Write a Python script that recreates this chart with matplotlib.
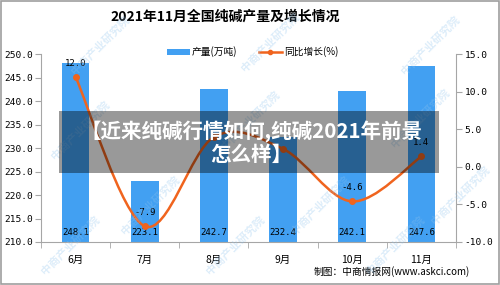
import matplotlib
matplotlib.use("Agg")
import matplotlib.pyplot as plt
from matplotlib.path import Path
from matplotlib.patches import PathPatch, Rectangle, Patch
from matplotlib.lines import Line2D
import numpy as np

plt.rcParams['font.family'] = ['Noto Sans CJK SC', 'DejaVu Sans']

months = ["6月", "7月", "8月", "9月", "10月", "11月"]
output = [248.1, 223.1, 242.7, 232.4, 242.1, 247.6]
yoy = [12.0, -7.9, 4.0, 2.4, -4.6, 1.4]
yoy_labels = ["12.0", "-7.9", "", "", "-4.6", "1.4"]

title = "2021年11月全国纯碱产量及增长情况"
banner = "【近来纯碱行情如何,纯碱2021年前景\n怎么样】"
source = "制图：中商情报网(www.askci.com)"

BLUE = "#42A0F2"
ORANGE = "#F0641E"
GRAY = "#A6A6A6"
MONO = ["DejaVu Sans Mono"]

fig = plt.figure(figsize=(5.0, 2.85), dpi=100)
ax = fig.add_axes([0.082, 0.151, 0.83, 0.658])
ax2 = ax.twinx()

x = np.arange(len(months))
ax.bar(x, output, width=0.4, color=BLUE, zorder=2)
ax.set_xlim(-0.5, len(months) - 0.5)
ax.set_ylim(210, 250)
ax.set_yticks(np.arange(210, 250.1, 5))
ax.set_yticklabels([f"{v:.1f}" for v in np.arange(210, 250.1, 5)], family=MONO, fontsize=6.8)
ax.set_xticks(x)
ax.set_xticklabels(months, fontsize=7.5)
ax.set_xticks(np.arange(-0.5, len(months)), minor=True)
ax.tick_params(axis='x', which='major', length=0, pad=9)
ax.tick_params(axis='x', which='minor', length=4, color=GRAY, direction='out')
ax.tick_params(axis='y', length=4, color=GRAY, pad=2)
ax.spines['top'].set_visible(False)
ax.spines['right'].set_visible(False)
ax.spines['left'].set_color(GRAY)
ax.spines['bottom'].set_color(GRAY)
ax2.spines['top'].set_visible(False)
ax2.spines['left'].set_visible(False)
ax2.spines['bottom'].set_visible(False)
ax2.spines['right'].set_color(GRAY)

for i, v in enumerate(output):
    ax.text(i, 212.1, f"{v:.1f}", ha='center', va='center', family=MONO, fontsize=6.5, color='black', zorder=3)

ax2.set_ylim(-10, 15)
ax2.set_yticks(np.arange(-10, 15.1, 5))
ax2.set_yticklabels([f"{v:.1f}" for v in np.arange(-10, 15.1, 5)], family=MONO, fontsize=6.8)
ax2.tick_params(axis='y', length=4, color=GRAY, pad=2)

# smoothed line (Catmull-Rom -> cubic Bezier)
pts = list(zip(x.astype(float), yoy))
verts = [pts[0]]
codes = [Path.MOVETO]
n = len(pts)
for i in range(n - 1):
    p0 = np.array(pts[max(i - 1, 0)])
    p1 = np.array(pts[i])
    p2 = np.array(pts[i + 1])
    p3 = np.array(pts[min(i + 2, n - 1)])
    c1 = p1 + (p2 - p0) / 6.0
    c2 = p2 - (p3 - p1) / 6.0
    verts += [tuple(c1), tuple(c2), tuple(p2)]
    codes += [Path.CURVE4] * 3
ax2.add_patch(PathPatch(Path(verts, codes), fill=False, ec=ORANGE, lw=1.8, zorder=4))
ax2.plot(x, yoy, linestyle='none', marker='o', markersize=4, color=ORANGE, zorder=5)
for i, (v, lab) in enumerate(zip(yoy, yoy_labels)):
    if lab:
        ax2.annotate(lab, (i, v), xytext=(0, 10), textcoords='offset points',
                     ha='center', va='center', family=MONO, fontsize=6.5, color='black', zorder=6)

# legend
handles = [Patch(facecolor=BLUE, edgecolor='none'),
           Line2D([0], [0], color=ORANGE, lw=1.8, marker='o', markersize=3)]
fig.legend(handles, ["产量(万吨)", "同比增长(%)"], ncol=2, loc='center',
           bbox_to_anchor=(0.505, 1 - 52 / 285), frameon=False, fontsize=7,
           handlelength=2.4, handleheight=0.5, handletextpad=0.2, columnspacing=2.2)

fig.text(0.45, 1 - 17 / 285, title, ha='center', va='center', fontsize=10, weight='bold')
fig.text(0.94, 1 - 272 / 285, source, ha='right', va='center', fontsize=7)

# watermarks
for (wx, wy) in [(100, 45), (270, 42), (430, 45), (80, 130), (250, 120), (420, 118),
                 (150, 205), (320, 205), (460, 195), (70, 245), (235, 245), (395, 245)]:
    fig.text(wx / 500, 1 - wy / 285, "中商产业研究院", rotation=45, ha='center', va='center',
             fontsize=8, color='#8EC3EE', alpha=0.3, weight='bold', zorder=7)

# banner overlay
fig.patches.append(Rectangle((59 / 500, 1 - 173 / 285), 380 / 500, 62 / 285,
                             transform=fig.transFigure, facecolor='black', alpha=0.4,
                             edgecolor='none', zorder=8))
fig.text(0.502, 1 - 143 / 285, banner, ha='center', va='center', fontsize=14.8,
         weight='heavy', color='white', linespacing=1.1, zorder=9)

# figure border
fig.patches.append(Rectangle((0.001, 0.002), 0.997, 0.996, transform=fig.transFigure,
                             fill=False, edgecolor='#9E9E9E', lw=1.2, zorder=10))

fig.savefig("out.png", dpi=100)
